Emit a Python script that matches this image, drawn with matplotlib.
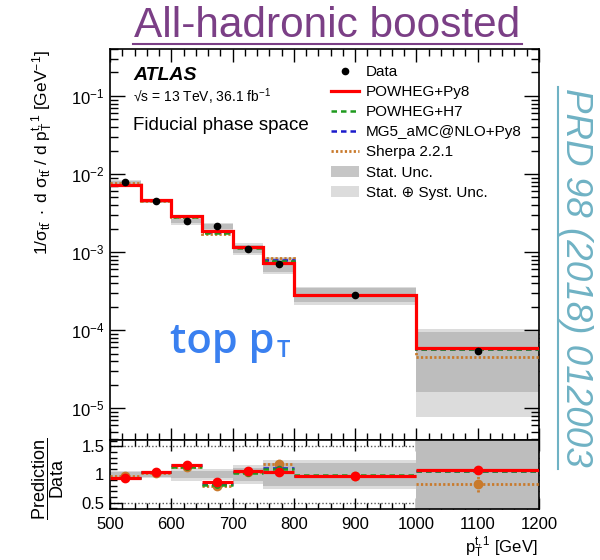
import matplotlib
matplotlib.use('Agg')
import matplotlib.pyplot as plt
import numpy as np
from matplotlib.lines import Line2D
from matplotlib.patches import Patch
from matplotlib.ticker import LogLocator, MultipleLocator, NullFormatter, FixedLocator

plt.rcParams['font.family'] = ['Liberation Sans', 'DejaVu Sans']
plt.rcParams['mathtext.fontset'] = 'custom'
plt.rcParams['mathtext.rm'] = 'Liberation Sans'
plt.rcParams['mathtext.it'] = 'Liberation Sans:italic'
plt.rcParams['mathtext.bf'] = 'Liberation Sans:bold'

# ---------------- data ----------------
bin_edges = [500, 550, 600, 650, 700, 750, 800, 1000, 1200]
data_values = [7.8e-3, 4.47e-3, 2.5e-3, 2.13e-3, 1.1e-3, 7.0e-4, 2.85e-4, 5.47e-5]
stat_unc = [0.04, 0.04, 0.06, 0.06, 0.12, 0.20, 0.20, 0.71]
total_unc = [0.07, 0.06, 0.11, 0.10, 0.17, 0.25, 0.26, 0.86]

ratio_py8 = [0.94, 1.047, 1.16, 0.866, 1.058, 1.047, 0.98, 1.075]
ratio_h7 = [0.94, 1.04, 1.14, 0.82, 1.03, 1.09, 0.99, 1.06]
ratio_mg5 = [0.93, 1.04, 1.16, 0.84, 1.05, 1.117, 0.98, 1.06]
ratio_sherpa = [0.97, 1.02, 1.13, 0.79, 1.04, 1.19, 0.98, 0.825]
err_sherpa = [0.03, 0.03, 0.03, 0.04, 0.04, 0.08, 0.03, 0.14]
err_py8 = [0.01, 0.01, 0.01, 0.01, 0.01, 0.02, 0.01, 0.02]

labels = ['Data', 'POWHEG+Py8', 'POWHEG+H7', 'MG5_aMC@NLO+Py8', 'Sherpa 2.2.1',
          'Stat. Unc.', 'Stat. \u2295 Syst. Unc.']

# ---------------- styles ----------------
c_py8 = '#ff0000'
c_h7 = '#1e9a1e'
c_mg5 = '#1a1acc'
c_sh = '#c97a2c'
c_stat = '#bdbdbd'
c_tot = '#dcdcdc'
ls_dash = (0, (2.2, 1.6))
ls_dot = (0, (0.8, 0.8))

edges = np.array(bin_edges, dtype=float)
left = edges[:-1]
widths = np.diff(edges)
centers = left + widths / 2
d = np.array(data_values)
st = np.array(stat_unc)
tot = np.array(total_unc)

W, H = 600, 560
def fx(px):
    return px / W
def fy(py):
    return 1 - py / H

fig = plt.figure(figsize=(6, 5.6), dpi=100)
ax = fig.add_axes([fx(110), fy(440), fx(539) - fx(110), fy(49) - fy(440)])
axr = fig.add_axes([fx(110), fy(509), fx(539) - fx(110), fy(440) - fy(509)])

# ---------------- main panel ----------------
ax.bar(left, 2 * d * tot, bottom=d * (1 - tot), width=widths, align='edge',
       color=c_tot, lw=0, zorder=1)
ax.bar(left, 2 * d * st, bottom=d * (1 - st), width=widths, align='edge',
       color=c_stat, lw=0, zorder=2)

ax.stairs(d * np.array(ratio_sherpa), edges, baseline=None, color=c_sh, lw=2.0, ls=ls_dot, zorder=3)
ax.stairs(d * np.array(ratio_mg5), edges, baseline=None, color=c_mg5, lw=1.8, ls=ls_dash, zorder=4)
ax.stairs(d * np.array(ratio_h7), edges, baseline=None, color=c_h7, lw=1.8, ls=ls_dash, zorder=5)
ax.stairs(d * np.array(ratio_py8), edges, baseline=None, color=c_py8, lw=2.3, zorder=6)
ax.plot(centers, d, 'o', color='k', ms=4.5, zorder=7)

ax.set_yscale('log')
ax.set_xlim(500, 1200)
ax.set_ylim(3.9e-6, 0.4)
ax.yaxis.set_major_locator(LogLocator(base=10, numticks=20))
ax.yaxis.set_minor_locator(LogLocator(base=10, subs=np.arange(2, 10), numticks=20))
ax.yaxis.set_minor_formatter(NullFormatter())
ax.xaxis.set_major_locator(MultipleLocator(100))
ax.xaxis.set_minor_locator(MultipleLocator(20))
ax.tick_params(which='both', direction='in', top=True, right=True, labelbottom=False,
               labelsize=12, width=1)
ax.tick_params(axis='y', which='major', length=11, pad=4)
ax.tick_params(axis='y', which='minor', length=6)
ax.tick_params(axis='x', which='major', length=9)
ax.tick_params(axis='x', which='minor', length=5)
for s in ax.spines.values():
    s.set_linewidth(1.2)

handles = [
    Line2D([], [], marker='o', color='k', ls='none', ms=4.5),
    Line2D([], [], color=c_py8, lw=2.3),
    Line2D([], [], color=c_h7, lw=1.8, ls=ls_dash),
    Line2D([], [], color=c_mg5, lw=1.8, ls=ls_dash),
    Line2D([], [], color=c_sh, lw=2.0, ls=ls_dot),
    Patch(facecolor='#c6c6c6', lw=0),
    Patch(facecolor=c_tot, lw=0),
]
ax.legend(handles, labels, loc='upper left', bbox_to_anchor=(fx(331), fy(65)),
          bbox_transform=fig.transFigure, frameon=False, fontsize=11,
          handlelength=1.85, handletextpad=0.45, labelspacing=0.40,
          borderpad=0, borderaxespad=0)

# ---------------- ratio panel ----------------
axr.axhline(1.5, color='#555555', ls=(0, (1, 1.5)), lw=1, zorder=0)
axr.axhline(0.5, color='#555555', ls=(0, (1, 1.5)), lw=1, zorder=0)
axr.bar(left, 2 * tot, bottom=1 - tot, width=widths, align='edge', color=c_tot, lw=0, zorder=1)
axr.bar(left, 2 * st, bottom=1 - st, width=widths, align='edge', color=c_stat, lw=0, zorder=2)

rs = np.array(ratio_sherpa)
axr.hlines(rs, left, edges[1:], colors=c_sh, linestyles=ls_dot, lw=2.0, zorder=3)
axr.vlines(centers, rs - np.array(err_sherpa), rs + np.array(err_sherpa), colors=c_sh,
           linestyles=ls_dot, lw=2.0, zorder=3)
axr.plot(centers, rs, 'o', color=c_sh, ms=6, zorder=3)

axr.hlines(ratio_mg5, left, edges[1:], colors=c_mg5, linestyles=ls_dash, lw=1.8, zorder=4)
axr.plot(centers, ratio_mg5, 'o', color=c_mg5, ms=3, zorder=4)
axr.hlines(ratio_h7, left, edges[1:], colors=c_h7, linestyles=ls_dash, lw=1.8, zorder=5)
axr.plot(centers, ratio_h7, 'o', color=c_h7, ms=4, zorder=5)

rp = np.array(ratio_py8)
axr.hlines(rp, left, edges[1:], colors=c_py8, lw=2.3, zorder=6)
axr.vlines(centers, rp - np.array(err_py8), rp + np.array(err_py8), colors=c_py8, lw=2.0, zorder=6)
axr.plot(centers, rp, 'o', color=c_py8, ms=6, zorder=6)

axr.set_xlim(500, 1200)
axr.set_ylim(0.39, 1.61)
axr.xaxis.set_major_locator(MultipleLocator(100))
axr.xaxis.set_minor_locator(MultipleLocator(20))
axr.yaxis.set_major_locator(FixedLocator([0.5, 1.0, 1.5]))
axr.yaxis.set_minor_locator(MultipleLocator(0.1))
axr.set_yticklabels(['0.5', '1', '1.5'])
axr.tick_params(which='both', direction='in', top=True, right=True, labelsize=12, width=1)
axr.tick_params(axis='y', which='major', length=9, pad=4)
axr.tick_params(axis='y', which='minor', length=5)
axr.tick_params(axis='x', which='major', length=8, pad=6)
axr.tick_params(axis='x', which='minor', length=4)
for s in axr.spines.values():
    s.set_linewidth(1.2)

# ---------------- texts ----------------
fig.text(fx(42), fy(50),
         r'$\mathregular{1/\sigma_{t\bar{t}}\ \cdot\ d\ \sigma_{t\bar{t}}\ /\ d\ p_{T}^{t,1}\ [GeV^{-1}]}$',
         rotation=90, ha='center', va='top', fontsize=12.5)
fig.text(fx(48), fy(479), r'$\dfrac{\mathregular{Prediction}}{\mathregular{Data}}$',
         rotation=90, ha='center', va='center', fontsize=13)
fig.text(fx(538), fy(553), r'$\mathregular{p_{T}^{t,1}}$ [GeV]', ha='right', va='baseline',
         fontsize=12)

fig.text(fx(133), fy(75), 'ATLAS', fontsize=14, fontweight='bold', fontstyle='italic', va='center')
fig.text(fx(133), fy(97), '\u221as = 13 TeV, 36.1 fb$^{\\mathregular{-1}}$', fontsize=10, va='center')
fig.text(fx(133), fy(126), 'Fiducial phase space', fontsize=13.5, va='center')

blue = '#3a80f0'
t_top = fig.text(fx(170), fy(353), 'top p', fontsize=30, color=blue,
                 family=['Open Sans', 'DejaVu Sans'], fontweight='semibold', va='baseline')
fig.canvas.draw()
bb = t_top.get_window_extent(renderer=fig.canvas.get_renderer())
x_end = bb.x1 / fig.bbox.width
fig.text(x_end + fx(2), fy(357), 'T', fontsize=17, color=blue, family=['Open Sans', 'DejaVu Sans'],
         fontweight='semibold', va='baseline')

purple = '#7b3f86'
fig.text(fx(327), fy(37), 'All-hadronic boosted', fontsize=30.5, color=purple,
         ha='center', va='baseline')
fig.add_artist(Line2D([fx(133), fx(522)], [fy(43.5), fy(43.5)], transform=fig.transFigure,
                      color=purple, lw=1.5))

teal = '#6fb2c4'
fig.text(fx(575), fy(277), 'PRD 98 (2018) 012003', rotation=270, fontsize=26.5,
         fontstyle='italic', color=teal, ha='center', va='center')
fig.add_artist(Line2D([fx(558), fx(558)], [fy(87), fy(469)], transform=fig.transFigure,
                      color=teal, lw=1.5))

fig.savefig('out.png', dpi=100)
